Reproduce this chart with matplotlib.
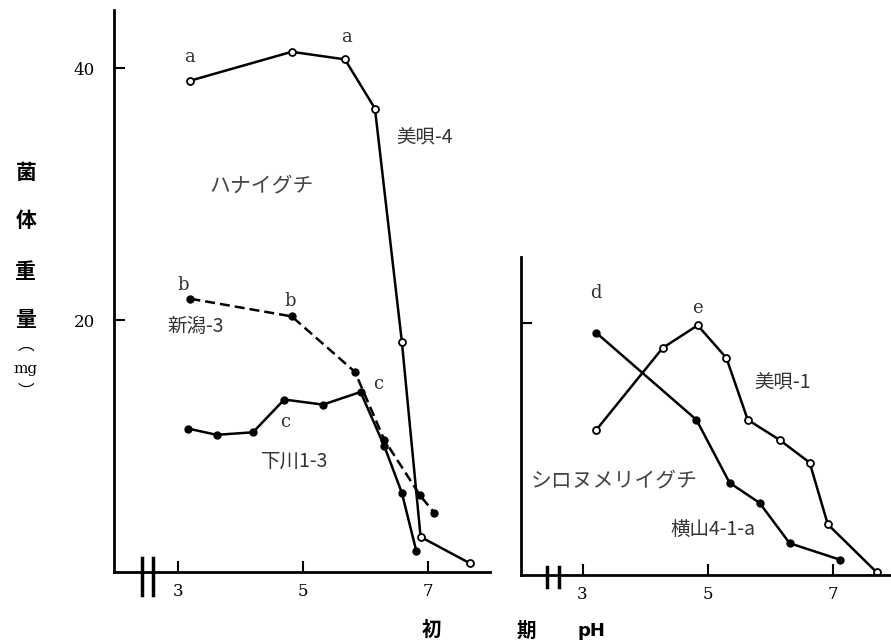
import matplotlib.pyplot as plt

plt.rcParams['font.family'] = ['DejaVu Serif', 'Noto Sans CJK JP']

# left panel: ハナイグチ
ph_bibai4 = [3.19, 4.82, 5.67, 6.15, 6.58, 6.88, 7.67]
w_bibai4 = [39.0, 41.3, 40.7, 36.8, 18.3, 2.8, 0.7]

ph_niigata3 = [3.2, 4.82, 5.83, 6.3, 6.87, 7.1]
w_niigata3 = [21.7, 20.3, 15.9, 10.5, 6.1, 4.7]

ph_shimokawa = [3.16, 3.62, 4.2, 4.7, 5.32, 5.92, 6.3, 6.58, 6.81]
w_shimokawa = [11.4, 10.9, 11.1, 13.7, 13.3, 14.3, 10.0, 6.3, 1.7]

# right panel: シロヌメリイグチ
ph_yokoyama = [3.22, 4.82, 5.35, 5.83, 6.31, 7.11]
w_yokoyama = [19.2, 12.3, 7.3, 5.7, 2.5, 1.2]

ph_bibai1 = [3.22, 4.28, 4.84, 5.3, 5.64, 6.15, 6.63, 6.92, 7.7]
w_bibai1 = [11.5, 18.0, 19.8, 17.2, 12.3, 10.7, 8.9, 4.0, 0.2]

xticks = [3, 5, 7]

fig = plt.figure(figsize=(8.91, 6.4), dpi=100)
ax1 = fig.add_axes([0.128, 0.106, 0.422, 0.878])
ax2 = fig.add_axes([0.585, 0.102, 0.415, 0.496])

lw = 1.8
ax1.plot(ph_bibai4, w_bibai4, '-o', color='black', lw=lw, ms=5, mfc='white', mew=1.3)
ax1.plot(ph_niigata3, w_niigata3, '--o', color='black', lw=lw, ms=5, dashes=(4, 2))
ax1.plot(ph_shimokawa, w_shimokawa, '-o', color='black', lw=lw, ms=5)
ax2.plot(ph_yokoyama, w_yokoyama, '-o', color='black', lw=lw, ms=5)
ax2.plot(ph_bibai1, w_bibai1, '-o', color='black', lw=lw, ms=5, mfc='white', mew=1.3)

ax1.set_xlim(1.98, 7.99)
ax1.set_ylim(0, 44.6)
ax2.set_xlim(2.02, 7.93)
ax2.set_ylim(0, 25.2)

for ax in (ax1, ax2):
    for s in ('top', 'right'):
        ax.spines[s].set_visible(False)
    ax.spines['left'].set_linewidth(2)
    ax.spines['bottom'].set_linewidth(2)
    ax.set_xticks(xticks)
    ax.tick_params(direction='in', length=8, width=1.5, labelsize=12)
    ax.tick_params(axis='x', pad=8)
    ax.tick_params(axis='y', pad=14)

ax1.set_yticks([20, 40])
ax2.set_yticks([20])
ax2.set_yticklabels([])

# axis breaks
for ax, x0 in ((ax1, 2.42), (ax2, 2.43)):
    for dx in (0, 0.19):
        ax.plot([x0 + dx, x0 + dx], [-0.04, 0.025], color='black', lw=2.5,
                transform=ax.get_xaxis_transform(), clip_on=False)

tk = dict(fontsize=13, color='#333333', ha='center', va='center')
jp = dict(fontsize=14, color='#333333', family=['Noto Sans CJK JP'],
          ha='center', va='center')
jp_big = dict(jp, fontsize=15, color='#444444')

ax1.text(3.19, 40.9, 'a', **tk)
ax1.text(5.7, 42.5, 'a', **tk)
ax1.text(6.95, 34.5, '美唄-4', **jp)
ax1.text(4.34, 30.7, 'ハナイグチ', **jp_big)
ax1.text(3.09, 22.8, 'b', **tk)
ax1.text(4.8, 21.5, 'b', **tk)
ax1.text(3.29, 19.5, '新潟-3', **jp)
ax1.text(6.2, 14.9, 'c', **tk)
ax1.text(4.72, 11.9, 'c', **tk)
ax1.text(4.86, 8.8, '下川1-3', **jp)
ax1.text(7.05, -4.6, '初', ha='center', va='center', fontsize=14,
         fontweight='bold', family=['Noto Sans CJK JP'])

ax2.text(3.22, 22.4, 'd', **tk)
ax2.text(4.84, 21.2, 'e', **tk)
ax2.text(6.2, 15.2, '美唄-1', **jp)
ax2.text(3.5, 7.5, 'シロヌメリイグチ', **jp_big)
ax2.text(5.08, 3.6, '横山4-1-a', **jp)
ax2.text(2.1, -4.5, '期', ha='center', va='center', fontsize=14,
         fontweight='bold', family=['Noto Sans CJK JP'])
ax2.text(3.15, -4.5, 'pH', ha='center', va='center', fontsize=13,
         fontweight='bold', family=['DejaVu Sans'])

# vertical y label
for ch, yy in zip(['菌', '体', '重', '量'], [0.731, 0.655, 0.575, 0.50]):
    fig.text(0.029, yy, ch, ha='center', va='center', fontsize=15,
             fontweight='bold', family=['Noto Sans CJK JP'])
fig.text(0.029, 0.447, '︵', ha='center', va='bottom', fontsize=12,
         family=['Noto Sans CJK JP'])
fig.text(0.029, 0.424, 'mg', ha='center', va='center', fontsize=11,
         family=['DejaVu Serif'])
fig.text(0.029, 0.401, '︶', ha='center', va='top', fontsize=12,
         family=['Noto Sans CJK JP'])

fig.savefig('out.png', dpi=100)
